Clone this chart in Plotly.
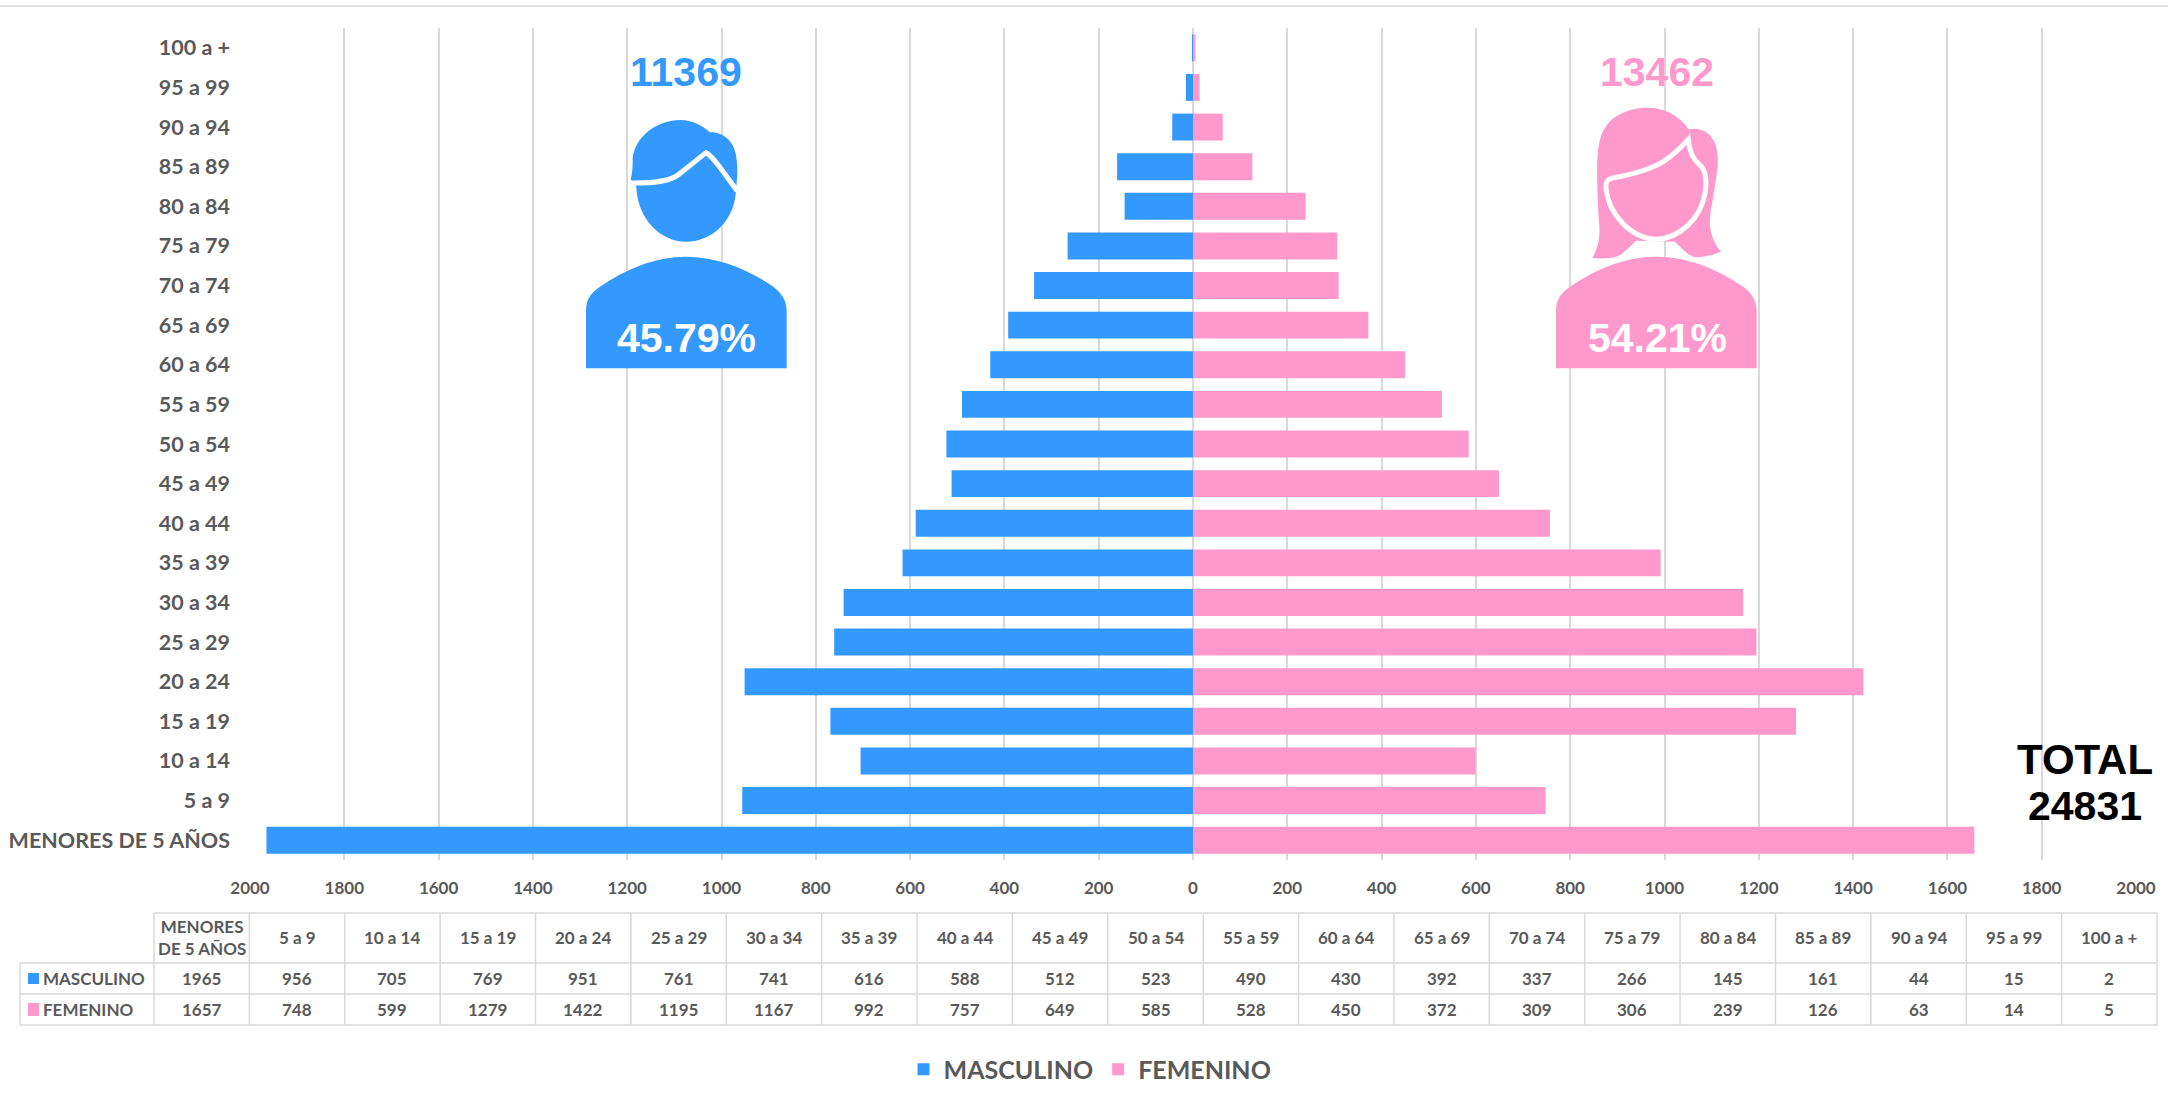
import re
import plotly.graph_objects as go

# ---------- data ----------
grupos = ["MENORES DE 5 AÑOS", "5 a 9", "10 a 14", "15 a 19", "20 a 24", "25 a 29", "30 a 34",
          "35 a 39", "40 a 44", "45 a 49", "50 a 54", "55 a 59", "60 a 64", "65 a 69", "70 a 74",
          "75 a 79", "80 a 84", "85 a 89", "90 a 94", "95 a 99", "100 a +"]
masculino = [1965, 956, 705, 769, 951, 761, 741, 616, 588, 512, 523, 490, 430, 392, 337, 266, 145, 161, 44, 15, 2]
femenino = [1657, 748, 599, 1279, 1422, 1195, 1167, 992, 757, 649, 585, 528, 450, 372, 309, 306, 239, 126, 63, 14, 5]
ticks = [-2000, -1800, -1600, -1400, -1200, -1000, -800, -600, -400, -200, 0,
         200, 400, 600, 800, 1000, 1200, 1400, 1600, 1800, 2000]
total_m, pct_m = "11369", "45.79%"
total_f, pct_f = "13462", "54.21%"
total = "24831"

# ---------- style ----------
W, H = 2168, 1102
L, R, T, B = 250, 2136, 28, 860
BLUE, PINK, GREY, GRID = "#3399FF", "#FF99CC", "#595959", "#D9D9D9"
LATO = "Lato"
ARIAL = "Liberation Sans"


def px(x):
    return (x - L) / (R - L)


def py(y):
    return (B - y) / (B - T)


def lato(size, color=GREY):
    return dict(family=LATO, size=size, color=color, weight=700)


def arial(size, color):
    return dict(family=ARIAL, size=size, color=color, weight=700)


fig = go.Figure()
fig.add_bar(y=grupos, x=[-v for v in masculino], name="MASCULINO", orientation="h",
            marker=dict(color=BLUE, line_width=0), customdata=masculino,
            hovertemplate="%{y}: %{customdata}<extra>MASCULINO</extra>")
fig.add_bar(y=grupos, x=femenino, name="FEMENINO", orientation="h",
            marker=dict(color=PINK, line_width=0),
            hovertemplate="%{y}: %{x}<extra>FEMENINO</extra>")

shapes, notes = [], []


def line(x0, y0, x1, y1, color=GRID, width=1.5):
    shapes.append(dict(type="line", xref="paper", yref="paper", x0=px(x0), x1=px(x1), y0=py(y0), y1=py(y1),
                       line=dict(color=color, width=width), layer="above"))


def box(x0, y0, x1, y1, color):
    shapes.append(dict(type="rect", xref="paper", yref="paper", x0=px(x0), x1=px(x1), y0=py(y0), y1=py(y1),
                       fillcolor=color, line_width=0, layer="above"))


def note(x, y, text, font, anchor="center"):
    notes.append(dict(xref="paper", yref="paper", x=px(x), y=py(y), text=text, showarrow=False, font=font,
                      xanchor=anchor, yanchor="middle", xshift=0, align="center", borderpad=0, borderwidth=0))


def icon(d, ox, oy, fill=None, stroke=None, sw=0):
    """Decorative pictogram outline given in crop pixels; mapped to paper coordinates."""
    nums = iter(re.findall(r"[A-Za-z]|-?\d+\.?\d*", d))
    out, idx = [], 0
    for tok in nums:
        if tok.isalpha():
            out.append(tok)
            idx = 0
        else:
            val = ox + float(tok) / 3 if idx % 2 == 0 else oy + float(tok) / 3
            val = px(val) if idx % 2 == 0 else py(val)
            out.append(f"{val:.5f}" + ("," if idx % 2 == 0 else " "))
            idx += 1
    shapes.append(dict(type="path", xref="paper", yref="paper", path="".join(out), layer="above",
                       fillcolor=fill if fill else "rgba(0,0,0,0)",
                       line=dict(color=stroke if stroke else "rgba(0,0,0,0)", width=sw)))


BODY = ("M78 1015 L78 845 C78 805 95 787 120 770 C200 715 290 680 378 680 "
        "C470 680 560 715 640 770 C665 790 680 810 680 845 L680 1015 Z")

# male pictogram
MX, MY = 560, 30
icon(BODY, MX, MY, BLUE)
icon("M212 448 C218 430 218 400 218 385 C225 320 290 270 362 270 C395 270 425 285 450 307 "
     "C490 305 520 335 527 370 C533 400 533 430 530 458 L527 492 C520 570 460 635 378 635 "
     "C300 635 232 565 229 470 Z", MX, MY, BLUE)
icon("M212 459 C280 460 330 455 358 432 L438 368 C462 382 485 420 531 482", MX, MY, None, "white", 5)

# female pictogram
FX, FY = 1530, 30
icon(BODY, FX, FY, PINK)
icon("M186 684 C205 655 210 620 208 590 C203 520 200 460 202 390 C205 330 215 295 250 265 "
     "C285 240 320 233 350 233 C400 233 450 255 475 298 C510 290 540 305 555 340 C570 380 562 420 553 480 "
     "C545 530 535 570 542 600 C548 630 560 650 573 665 C540 678 510 685 490 680 C475 675 455 655 435 635 "
     "L318 632 C295 655 280 670 265 678 C240 687 210 686 186 684 Z", FX, FY, PINK)
icon("M245 445 C290 437 350 425 400 395 C430 375 455 350 475 328 C478 365 490 390 510 405 "
     "C530 425 530 460 525 490 C512 565 450 625 378 628 C300 625 235 550 228 475 C226 455 232 448 245 445 Z",
     FX, FY, PINK, "white", 5)

# totals
note(686, 72, total_m, arial(41, BLUE))
note(1657, 72, total_f, arial(41, PINK))
note(686, 338, pct_m, arial(41, "white"))
note(1657, 338, pct_f, arial(41, "white"))
note(2085, 759, "TOTAL", arial(42, "black"))
note(2085, 806, total, arial(41, "black"))

# data table
TL, TR = 154, 2157
ROW0, ROW1, ROW2, ROW3 = 913, 963, 994, 1025
step = (TR - TL) / len(grupos)
line(0, 6, W, 6, "#DDDDDD", 1.5)
line(TL, ROW0, TR, ROW0)
for ry in (ROW1, ROW2, ROW3):
    line(20, ry, TR, ry)
line(20, ROW1, 20, ROW3)
for i in range(len(grupos) + 1):
    line(TL + i * step, ROW0, TL + i * step, ROW3)
for i, g in enumerate(grupos):
    cx = TL + (i + 0.5) * step
    note(cx, (ROW0 + ROW1) / 2 - 1, g.replace("MENORES DE", "MENORES<br>DE"), lato(17))
    note(cx, (ROW1 + ROW2) / 2, str(masculino[i]), lato(17))
    note(cx, (ROW2 + ROW3) / 2, str(femenino[i]), lato(17))
box(28, 973, 39, 984, BLUE)
box(28, 1003, 39, 1016, PINK)
note(43, (ROW1 + ROW2) / 2, "MASCULINO", lato(17), "left")
note(43, (ROW2 + ROW3) / 2, "FEMENINO", lato(17), "left")

fig.update_layout(
    width=W, height=H, autosize=False,
    margin=dict(l=L, r=W - R, t=T, b=H - B, pad=0),
    paper_bgcolor="white", plot_bgcolor="white",
    barmode="overlay", bargap=0.32,
    showlegend=True,
    legend=dict(orientation="h", xref="container", yref="container", x=1090 / W, y=1 - 1069.5 / H,
                xanchor="center", yanchor="middle",
                font=lato(25), traceorder="normal", itemclick=False, itemdoubleclick=False),
    xaxis=dict(range=[-2000, 2000], tickmode="array", tickvals=ticks, ticktext=[str(abs(t)) for t in ticks],
               automargin=False,
               showgrid=True, gridcolor=GRID, gridwidth=1.5, zeroline=True, zerolinecolor=GRID, zerolinewidth=1.5,
               showline=False, ticks="", tickfont=lato(17), ticklabelstandoff=16),
    yaxis=dict(type="category", categoryorder="array", categoryarray=grupos, showgrid=False, zeroline=False,
               automargin=False,
               showline=False, ticks="", tickfont=lato(21.5), ticklabelstandoff=19),
    shapes=shapes, annotations=notes,
    font=dict(family=LATO, color=GREY),
)

fig.write_html(
    "out.html",
    config=dict(displayModeBar=False),
    post_script=("document.body.style.margin='0';"
                 "document.documentElement.style.overflow='hidden';"
                 "document.body.style.overflow='hidden';"
                 "var gd=document.getElementById('{plot_id}');gd.style.display='block';"
                 "if(gd.parentElement){gd.parentElement.style.display='block';"
                 "gd.parentElement.style.height='1102px';}"),
)
